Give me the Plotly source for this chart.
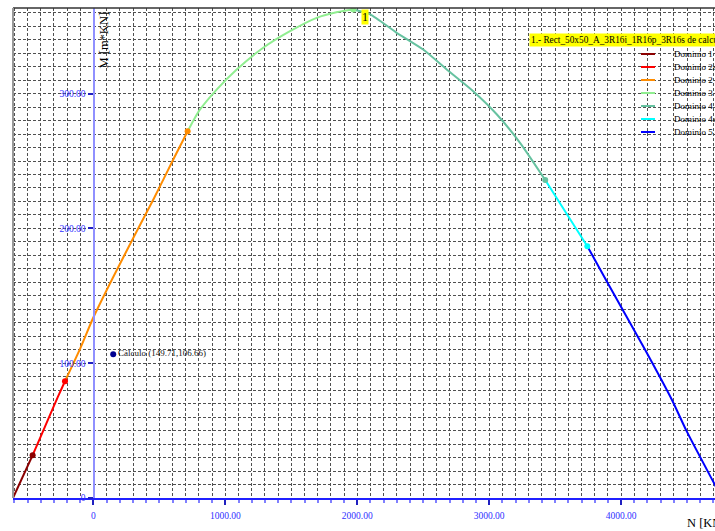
import plotly.graph_objects as go

# ---- data (N [KN], M [m*KN]) per domain ----
d1_N = [-610, -461]
d1_M = [0.0, 31.8]
d2a_N = [-461, -400, -330, -270, -216]
d2a_M = [31.8, 45.5, 61.5, 75.0, 86.6]
d2_N = [-216, -100, -2, 150, 328, 460, 605, 714]
d2_M = [86.6, 111.0, 133.7, 164.0, 197.9, 222.5, 251.1, 272.1]
d3_N = [714, 760, 807, 934, 1086, 1287, 1490, 1692, 1850, 1970]
d3_M = [272.1, 280.5, 288.1, 303.0, 317.9, 334.0, 346.3, 356.2, 360.5, 362.4]
d4_N = [1970, 2097, 2299, 2500, 2678, 2879, 3057, 3234, 3425]
d4_M = [362.4, 358.8, 345.1, 332.7, 317.9, 301.8, 284.7, 263.5, 235.9]
d4a_N = [3425, 3580, 3744]
d4a_M = [235.9, 212.0, 186.8]
d5_N = [3744, 3891, 4181, 4384, 4497, 4710, 4764]
d5_M = [186.8, 160.8, 110.2, 73.1, 49.6, 10.0, 0.0]

calc_N = [149.71]
calc_M = [106.66]
calc_label = "Cálculo (149.71,106.66)"

domain_names = ["Dominio 1", "Dominio 2a", "Dominio 2", "Dominio 3",
                "Dominio 4", "Dominio 4a", "Dominio 5"]
domain_colors = ["#8b0000", "#ff0000", "#ff8c00", "#90ee90",
                 "#66c2a0", "#00ffff", "#0000ff"]
series = [(d1_N, d1_M), (d2a_N, d2a_M), (d2_N, d2_M), (d3_N, d3_M),
          (d4_N, d4_M), (d4a_N, d4a_M), (d5_N, d5_M)]

x_tickvals = [0, 1000, 2000, 3000, 4000]
x_ticktext = ["0", "1000.00", "2000.00", "3000.00", "4000.00"]
y_tickvals = [0, 100, 200, 300]
y_ticktext = ["0", "100.00", "200.00", "300.00"]

curve_title = "1.- Rect_50x50_A_3R16i_1R16p_3R16s de calculo"
curve_id = "1"
label_N, label_M = 2062, 357

# ---- layout geometry ----
W, H = 715, 531
L, R, T, B = 13, 0, 8, 33
PW, PH = W - L - R, H - T - B


def px(x):
    return (x - L) / PW


def py(y):
    return (H - B - y) / PH


SERIF = "Liberation Serif, Times New Roman, serif"

fig = go.Figure()
for (xs, ys), name, col in zip(series, domain_names, domain_colors):
    fig.add_trace(go.Scatter(x=xs, y=ys, mode="lines", name=name,
                             line=dict(color=col, width=2, shape="spline",
                                       smoothing=0.6),
                             showlegend=False))
for (xs, ys), name, col in zip(series[:-1], domain_names, domain_colors):
    fig.add_trace(go.Scatter(x=[xs[-1]], y=[ys[-1]], mode="markers",
                             marker=dict(color=col, size=6), showlegend=False,
                             hoverinfo="skip"))

fig.add_trace(go.Scatter(x=calc_N, y=calc_M, mode="markers+text",
                         marker=dict(color="#000090", size=6),
                         text=[calc_label], textposition="middle right",
                         textfont=dict(family=SERIF, size=9, color="#111"),
                         showlegend=False))

annotations = []
# curve id label
annotations.append(dict(x=label_N, y=label_M, xref="x", yref="y", text=curve_id,
                        showarrow=False, bgcolor="#ffff00", borderpad=0,
                        font=dict(family=SERIF, size=12, color="black")))
# legend title
annotations.append(dict(x=px(529), y=py(39.5), xref="paper", yref="paper",
                        text=curve_title, showarrow=False, xanchor="left",
                        yanchor="middle", bgcolor="#ffff00", borderpad=1,
                        font=dict(family=SERIF, size=9.3, color="black")))
shapes = []
for i, (name, col) in enumerate(zip(domain_names, domain_colors)):
    yy = 54 + 13 * i
    annotations.append(dict(x=px(672), y=py(yy), xref="paper", yref="paper",
                            text=name, showarrow=False, xanchor="left",
                            yanchor="middle",
                            font=dict(family=SERIF, size=9, color="black")))
    shapes.append(dict(type="line", xref="paper", yref="paper",
                       x0=px(641), x1=px(655), y0=py(yy), y1=py(yy),
                       line=dict(color=col, width=2)))

# axis titles
annotations.append(dict(x=px(103), y=py(9), xref="paper", yref="paper",
                        text="M [m*KN]", textangle=-90, showarrow=False,
                        xanchor="center", yanchor="top",
                        font=dict(family=SERIF, size=12.5, color="black")))
annotations.append(dict(x=px(685), y=py(523), xref="paper", yref="paper",
                        text="N [KN]", showarrow=False,
                        xanchor="left", yanchor="middle",
                        font=dict(family=SERIF, size=12.5, color="black")))

# frame lines
shapes.append(dict(type="line", xref="paper", yref="paper", x0=0, x1=1,
                   y0=1, y1=1, line=dict(color="#333", width=1.5)))
shapes.append(dict(type="line", xref="paper", yref="paper", x0=0, x1=0,
                   y0=0, y1=1, line=dict(color="#999", width=2)))

GRID = "#505050"
DASH = "3px,2px"
fig.update_layout(
    width=W, height=H,
    margin=dict(l=L, r=R, t=T, b=B),
    paper_bgcolor="white", plot_bgcolor="white",
    showlegend=False,
    annotations=annotations, shapes=shapes,
    xaxis=dict(range=[-610, 4712], tickvals=x_tickvals, ticktext=x_ticktext,
               showgrid=True, gridcolor=GRID, griddash=DASH, gridwidth=1,
               zeroline=False, showline=True, linecolor="#2020ff", linewidth=2,
               ticks="outside", ticklen=5, tickwidth=2, tickcolor="#2020c0",
               ticklabelstandoff=3,
               tickfont=dict(family=SERIF, size=9.5, color="#3030ff"),
               minor=dict(dtick=100, tick0=0, showgrid=True, gridcolor=GRID,
                          griddash=DASH, gridwidth=1, ticks="outside",
                          ticklen=3, tickcolor="#8080ff")),
    yaxis=dict(range=[0, 363.5], tickvals=y_tickvals, ticktext=y_ticktext,
               anchor="free", position=(93.5 - L) / PW,
               showgrid=True, gridcolor=GRID, griddash=DASH, gridwidth=1,
               zeroline=False, showline=True, linecolor="#9090ff", linewidth=2,
               ticks="outside", ticklen=5, tickwidth=2, tickcolor="#2020c0",
               tickfont=dict(family=SERIF, size=9.5, color="#3030ff"),
               minor=dict(dtick=10, tick0=0, showgrid=True, gridcolor=GRID,
                          griddash=DASH, gridwidth=1)),
)

fig.write_html("out.html")
